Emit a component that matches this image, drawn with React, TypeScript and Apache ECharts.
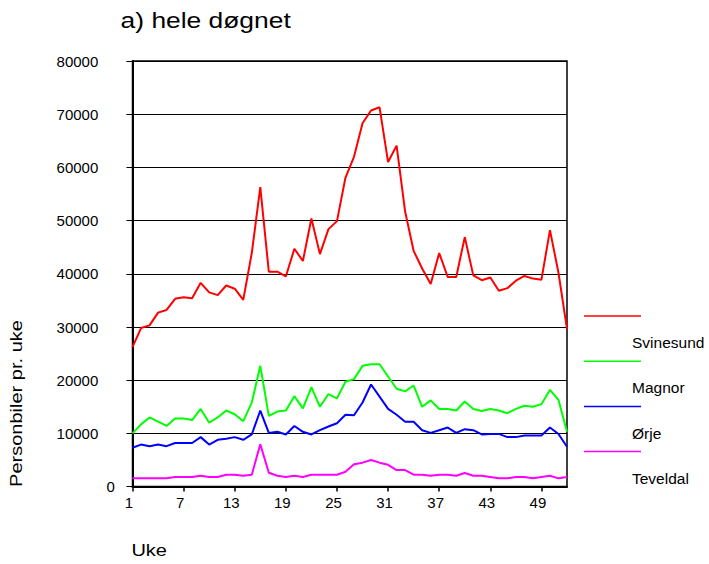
import React, { useEffect, useRef } from "react";
import * as echarts from "echarts";

const weeks = [
  "1", "2", "3", "4", "5", "6", "7", "8", "9", "10", "11", "12", "13",
  "14", "15", "16", "17", "18", "19", "20", "21", "22", "23", "24", "25", "26",
  "27", "28", "29", "30", "31", "32", "33", "34", "35", "36", "37", "38", "39",
  "40", "41", "42", "43", "44", "45", "46", "47", "48", "49", "50", "51", "52",
];

const svinesund = [
  26200, 29800, 30300, 32700, 33200, 35300, 35600, 35400, 38300, 36500, 36000, 37800, 37200,
  35100, 43900, 56300, 40400, 40400, 39500, 44700, 42400, 50400, 43700, 48400, 49900, 58100,
  62000, 68300, 70700, 71300, 61000, 64100, 51700, 44300, 41000, 38100, 43900, 39400, 39400,
  46900, 39700, 38800, 39300, 36800, 37300, 38700, 39600, 39100, 38900, 48200, 40200, 29600,
];

const magnor = [
  10000, 11700, 13000, 12200, 11400, 12800, 12800, 12500, 14600, 12000, 13000, 14300, 13600,
  12300, 15800, 22700, 13300, 14100, 14300, 17000, 14700, 18700, 15000, 17400, 16600, 19700,
  20200, 22700, 23000, 23000, 20700, 18400, 17900, 19000, 15000, 16200, 14600, 14600, 14300,
  16000, 14600, 14200, 14600, 14300, 13800, 14600, 15200, 15000, 15500, 18200, 16300, 10300,
];

const orje = [
  7300, 7900, 7600, 7900, 7600, 8200, 8200, 8200, 9300, 7900, 8800, 9000, 9300,
  8800, 9800, 14300, 10100, 10300, 9800, 11400, 10300, 9800, 10600, 11300, 11900, 13500,
  13400, 15800, 19200, 16900, 14600, 13500, 12200, 12200, 10600, 10100, 10600, 11100, 10100,
  10800, 10600, 9800, 9900, 9900, 9300, 9300, 9600, 9600, 9600, 11100, 9900, 7500,
];

const teveldal = [
  1550, 1550, 1550, 1550, 1550, 1800, 1800, 1800, 2050, 1800, 1800, 2240, 2240,
  2050, 2240, 7950, 2600, 2050, 1800, 2050, 1800, 2240, 2240, 2240, 2240, 2800,
  4200, 4500, 5000, 4500, 4100, 3100, 3100, 2240, 2240, 2050, 2240, 2240, 2050,
  2560, 2050, 2050, 1800, 1550, 1550, 1800, 1800, 1550, 1800, 2050, 1550, 1800,
];

const seriesNames = ["Svinesund", "Magnor", "Ørje", "Teveldal"];
const seriesColors = ["#ff0000", "#00ff00", "#0000ff", "#ff00ff"];
const seriesData = [svinesund, magnor, orje, teveldal];

const titleText = "a) hele døgnet";
const yName = "Personbiler pr. uke";
const xName = "Uke";

const FONT = "'Liberation Sans', Arial, Helvetica, sans-serif";

export default function App() {
  const ref = useRef<HTMLDivElement>(null);

  useEffect(() => {
    if (!ref.current) return;
    const chart = echarts.init(ref.current, undefined, { renderer: "svg" });

    const legendGraphics: any[] = [];
    seriesNames.forEach((name, i) => {
      legendGraphics.push({
        type: "line",
        shape: { x1: 584, y1: 316 + i * 45.2, x2: 641, y2: 316 + i * 45.2 },
        style: { stroke: seriesColors[i], lineWidth: 1.5 },
      });
      legendGraphics.push({
        type: "text",
        x: 632,
        y: 342.6 + i * 45.3,
        style: {
          text: name,
          fontSize: 15.5,
          fontFamily: FONT,
          fill: "#000",
          align: "left",
          verticalAlign: "middle",
        },
      });
    });

    const option: any = {
      animation: false,
      backgroundColor: "#ffffff",
      textStyle: { fontFamily: FONT },
      grid: {
        left: 132.5,
        right: 142,
        top: 61,
        bottom: 77.4,
        show: true,
        borderColor: "#000",
        borderWidth: 1.5,
        backgroundColor: "transparent",
      },
      xAxis: {
        type: "category",
        data: weeks,
        boundaryGap: false,
        axisLine: { show: true, lineStyle: { color: "#000", width: 2 } },
        axisTick: {
          show: true,
          interval: 5,
          length: 5,
          lineStyle: { color: "#000", width: 1.5 },
        },
        axisLabel: {
          interval: 5,
          margin: 8,
          fontSize: 15,
          fontFamily: FONT,
          color: "#000",
          padding: [0, 7, 0, 0],
        },
        splitLine: { show: false },
      },
      yAxis: {
        type: "value",
        min: 0,
        max: 80000,
        interval: 10000,
        axisLine: { show: true, lineStyle: { color: "#000", width: 2 } },
        axisTick: { show: true, length: 6, lineStyle: { color: "#000", width: 1 } },
        axisLabel: {
          margin: 17.6,
          color: "#000",
          fontSize: 15,
          fontFamily: FONT,
          formatter: (v: number) => (v === 0 ? "{z|0}" : "{n|" + v + "}"),
          rich: {
            n: { fontSize: 15, fontFamily: FONT, color: "#000", padding: [0, 16.6, 0, 0] },
            z: { fontSize: 15, fontFamily: FONT, color: "#000" },
          },
        },
        splitLine: { show: true, lineStyle: { color: "#000", width: 1 } },
      },
      series: seriesNames.map((name, i) => ({
        name,
        type: "line",
        data: seriesData[i],
        showSymbol: false,
        symbol: "none",
        lineStyle: { color: seriesColors[i], width: 2 },
        itemStyle: { color: seriesColors[i] },
        z: 10 - i,
      })),
      graphic: [
        {
          type: "text",
          x: 120.6,
          y: 20.7,
          scaleX: 1.2,
          style: {
            text: titleText,
            fontSize: 22,
            fontFamily: FONT,
            fill: "#000",
            align: "left",
            verticalAlign: "middle",
          },
        },
        {
          type: "text",
          x: 17,
          y: 403.5,
          rotation: Math.PI / 2,
          scaleX: 1.25,
          style: {
            text: yName,
            fontSize: 16,
            fontFamily: FONT,
            fill: "#000",
            align: "center",
            verticalAlign: "middle",
          },
        },
        {
          type: "text",
          x: 131.4,
          y: 550.4,
          scaleX: 1.25,
          style: {
            text: xName,
            fontSize: 16,
            fontFamily: FONT,
            fill: "#000",
            align: "left",
            verticalAlign: "middle",
          },
        },
        ...legendGraphics,
      ],
    };

    chart.setOption(option);
    return () => {
      chart.dispose();
    };
  }, []);

  return (
    <div
      ref={ref}
      style={{ position: "absolute", left: 0, top: 0, width: 709, height: 564 }}
    />
  );
}
